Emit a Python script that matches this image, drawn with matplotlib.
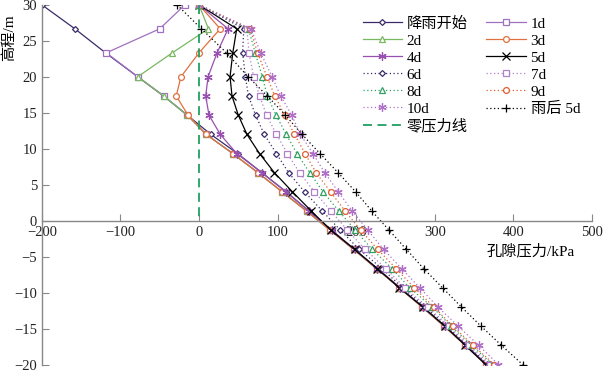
import matplotlib
matplotlib.use("Agg")
import matplotlib.pyplot as plt

plt.rcParams['font.family'] = ['Liberation Serif', 'Noto Sans CJK SC']
plt.rcParams['axes.unicode_minus'] = True

elev = [30, 26.67, 23.33, 20, 17.33, 14.67, 12, 9.33, 6.67, 4, 1.33,
        -1.33, -4, -6.67, -9.33, -12, -14.67, -17.33, -20]

p_start = [-200, -158, -119, -78, -45, -15, 15, 49, 80, 111, 140, 169, 198, 227, 256, 285, 313, 340, 366]
p_1d = [-18, -50, -118, -78, -45, -15, 9, 43, 75, 106, 137, 167, 197, 226, 255, 284, 312, 339, 365]
p_2d = [0, 12, -34, -78, -45, -15, 9, 43, 75, 106, 137, 167, 197, 226, 255, 284, 312, 339, 365]
p_3d = [0, 27, 0, -23, -29, -14, 9, 43, 75, 106, 137, 167, 197, 226, 255, 284, 312, 339, 365]
p_4d = [0, 37, 23, 11.5, 8.5, 12.7, 27, 48, 80, 111, 140, 169, 198, 227, 256, 285, 313, 340, 366]
p_5d = [0, 48, 43, 39.5, 42, 50, 61, 77, 96, 119, 143, 168, 198, 227, 255, 285, 313, 339, 365]
p_6d = [0, 57, 55.5, 59, 63, 72, 83, 98.5, 114, 134.5, 157, 180, 204, 233, 259, 288, 316, 341, 368]
p_7d = [0, 61, 63.6, 69.6, 77, 86, 98.5, 112.5, 128, 147, 168, 189, 211.5, 238, 262, 291, 318, 344, 371]
p_8d = [0, 63, 71.5, 80.6, 87, 98, 111, 124.7, 141, 158, 178, 199, 220.5, 246, 268, 297, 321, 347, 374]
p_9d = [0, 65, 74.5, 86.5, 96.5, 109, 121.5, 135, 149, 167.5, 186, 206, 227.5, 251, 274, 299, 323, 349, 376]
p_10d = [0, 66, 78.5, 93, 104, 118, 129, 145, 160, 177.5, 195, 215, 235, 258, 281, 304, 330, 356, 381]
p_after5d = [-28, 3, 35, 62.5, 87, 110, 131, 154, 177, 199.5, 220, 242, 264, 286, 310, 334, 359, 385, 412]

zero_x = [0, 0]
zero_y = [30, 0]

labels = ['降雨开始', '1d', '2d', '3d', '4d', '5d', '6d', '7d', '8d', '9d', '10d', '雨后 5d', '零压力线']
xticks = [-200, -100, 0, 100, 200, 300, 400, 500]
yticks = [30, 25, 20, 15, 10, 5, 0, -5, -10, -15, -20]

fig = plt.figure(figsize=(6.07, 3.72), dpi=100)
ax = fig.add_axes([0.069, 0.02, 0.906, 0.967])

ast = (6, 2, 0)
solid_dot = (0, (1, 2))
series = [
    (p_start, '#3a2a6a', 'D', '-', 3.0),
    (p_1d, '#a070c0', 's', '-', 4.2),
    (p_2d, '#78b860', '^', '-', 4.8),
    (p_3d, '#e07040', 'o', '-', 4.2),
    (p_4d, '#9850b0', ast, '-', 6),
    (p_5d, '#000000', 'x', '-', 5.5),
    (p_6d, '#3a2a6a', 'D', solid_dot, 3.0),
    (p_7d, '#b080c8', 's', solid_dot, 4.2),
    (p_8d, '#30a060', '^', solid_dot, 4.8),
    (p_9d, '#e06030', 'o', solid_dot, 4.2),
    (p_10d, '#b070c8', ast, solid_dot, 6),
    (p_after5d, '#000000', '+', solid_dot, 6),
]

handles = []
for (vals, col, mk, ls, ms), lab in zip(series, labels[:12]):
    h, = ax.plot(vals, elev, color=col, marker=mk, linestyle=ls, lw=0.9,
                 markersize=ms, mfc='white', mec=col, mew=0.9, label=lab)
    handles.append(h)
hz, = ax.plot(zero_x, zero_y, color='#20a060', linestyle=(0, (5, 3)), lw=1.3, label=labels[12])

order = [0, 2, 4, 6, 8, 10]
hl = [handles[i] for i in order] + [hz] + [handles[i] for i in [1, 3, 5, 7, 9, 11]]
ll = [h.get_label() for h in hl]
ax.legend(hl, ll, ncol=2, frameon=False, loc='upper left', bbox_to_anchor=(0.572, 0.985),
          fontsize=11, handlelength=2.6, labelspacing=0.22, columnspacing=1.2,
          handletextpad=0.3, borderaxespad=0)

ax.set_xlim(-200, 500)
ax.set_ylim(-20, 30)
ax.spines['top'].set_visible(False)
ax.spines['right'].set_visible(False)
ax.spines['bottom'].set_position(('data', 0))
for s in ['left', 'bottom']:
    ax.spines[s].set_color('#888888')
    ax.spines[s].set_linewidth(1.0)
ax.set_xticks(xticks)
ax.set_yticks(yticks)
ax.tick_params(direction='in', length=5, color='#888888', labelsize=10.5, colors='#222222')
ax.tick_params(axis='x', pad=4)
ax.patch.set_alpha(0)

ax.text(-241, 25.5, '高程/m', rotation=90, ha='center', va='center', fontsize=11, clip_on=False)
ax.text(366, -4.2, '孔隙压力/kPa', ha='left', va='center', fontsize=11)

fig.savefig('out.png', dpi=100)
